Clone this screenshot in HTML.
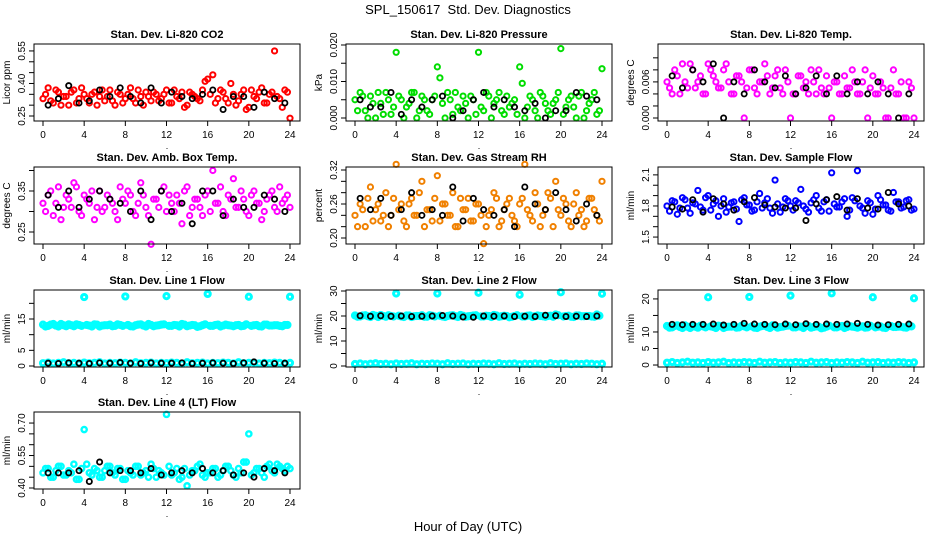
<!DOCTYPE html>
<html><head><meta charset="utf-8"><style>
html,body{margin:0;padding:0;background:#fff;}
svg{display:block;font-family:"Liberation Sans",sans-serif;}
</style></head><body>
<svg id="chart" width="936" height="540" viewBox="0 0 936 540">
<rect x="0" y="0" width="936" height="540" fill="#fff"/>
<text x="468" y="14" font-size="13" text-anchor="middle">SPL_150617&#160; Std. Dev. Diagnostics</text>
<text x="468" y="531" font-size="13" text-anchor="middle">Hour of Day (UTC)</text>
</svg>
<script>
// ---------- data ----------
const hoursColor = [0,0.5,1,1.5,2,2.5,3,3.5,4,4.5,5,5.5,6,6.5,7,7.5,8,8.5,9,9.5,10,10.5,11,11.5,12,12.5,13,13.5,14,14.5,15,15.5,16,16.5,17,17.5,18,18.5,19,19.5,20,20.5,21,21.5,22,22.5,23,23.5,24];
const hoursColorB = [0.25,0.75,1.25,1.75,2.25,2.75,3.25,3.75,4.25,4.75,5.25,5.75,6.25,6.75,7.25,7.75,8.25,8.75,9.25,9.75,10.25,10.75,11.25,11.75,12.25,12.75,13.25,13.75,14.25,14.75,15.25,15.75,16.25,16.75,17.25,17.75,18.25,18.75,19.25,19.75,20.25,20.75,21.25,21.75,22.25,22.75,23.25,23.75];
const hoursBlack = [0.5,1.5,2.5,3.5,4.5,5.5,6.5,7.5,8.5,9.5,10.5,11.5,12.5,13.5,14.5,15.5,16.5,17.5,18.5,19.5,20.5,21.5,22.5,23.5];
const xTicks = [0,4,8,12,16,20,24];

const co2Color = [0.33,0.38,0.31,0.36,0.34,0.30,0.37,0.33,0.35,0.31,0.36,0.34,0.32,0.37,0.30,0.35,0.33,0.38,0.31,0.34,0.36,0.32,0.35,0.33,0.37,0.31,0.34,0.36,0.30,0.35,0.33,0.37,0.42,0.44,0.33,0.36,0.31,0.35,0.32,0.37,0.29,0.34,0.36,0.31,0.35,0.55,0.33,0.37,0.24];
const co2ColorB = [0.35,0.32,0.37,0.30,0.34,0.36,0.31,0.38,0.33,0.35,0.30,0.37,0.34,0.32,0.36,0.31,0.35,0.33,0.37,0.30,0.34,0.36,0.32,0.35,0.31,0.37,0.33,0.29,0.36,0.34,0.32,0.41,0.35,0.31,0.37,0.33,0.40,0.30,0.35,0.28,0.37,0.33,0.38,0.31,0.36,0.34,0.29,0.36];
const co2Black = [0.30,0.33,0.39,0.31,0.32,0.37,0.34,0.38,0.34,0.31,0.38,0.31,0.36,0.34,0.33,0.35,0.37,0.28,0.34,0.34,0.29,0.36,0.33,0.31];

const presColor = [0.005,0.007,0.002,0.006,0.000,0.004,0.007,0.001,0.018,0.005,0.003,0.007,0.000,0.006,0.002,0.005,0.014,0.004,0.007,0.001,0.003,0.006,0.000,0.005,0.018,0.002,0.006,0.004,0.007,0.001,0.003,0.005,0.014,0.000,0.006,0.002,0.007,0.004,0.001,0.005,0.019,0.003,0.006,0.000,0.007,0.002,0.005,0.001,0.0135];
const presColorB = [0.002,0.006,0.000,0.004,0.007,0.001,0.005,0.003,0.006,0.000,0.004,0.007,0.002,0.005,0.001,0.006,0.011,0.000,0.005,0.007,0.002,0.004,0.006,0.001,0.003,0.007,0.000,0.005,0.002,0.006,0.004,0.001,0.0095,0.003,0.005,0.000,0.006,0.002,0.004,0.007,0.001,0.005,0.003,0.006,0.000,0.004,0.007,0.002];
const presBlack = [0.005,0.003,0.003,0.007,0.001,0.005,0.003,0.005,0.006,0.000,0.002,0.005,0.007,0.003,0.005,0.003,0.002,0.004,0.000,0.002,0.002,0.007,0.006,0.005];

const tempColor = [0.006,0.004,0.007,0.009,0.005,0.008,0.006,0.004,0.009,0.007,0.005,0.008,0.006,0.004,0.007,0.000,0.008,0.005,0.006,0.009,0.004,0.007,0.005,0.008,0.000,0.004,0.007,0.006,0.008,0.004,0.005,0.007,0.000,0.006,0.004,0.005,0.008,0.004,0.006,0.000,0.007,0.004,0.005,0.000,0.008,0.004,0.000,0.006,0.000];
const tempColorB = [0.005,0.008,0.004,0.006,0.009,0.005,0.007,0.004,0.008,0.006,0.005,0.009,0.004,0.007,0.006,0.005,0.008,0.004,0.006,0.007,0.005,0.008,0.004,0.006,0.004,0.007,0.005,0.004,0.006,0.008,0.004,0.005,0.006,0.004,0.007,0.005,0.006,0.004,0.008,0.005,0.004,0.006,0.000,0.005,0.004,0.006,0.000,0.005];
const tempBlack = [0.007,0.005,0.008,0.006,0.009,0.000,0.006,0.004,0.008,0.006,0.005,0.007,0.004,0.005,0.007,0.004,0.007,0.004,0.006,0.004,0.006,0.004,0.000,0.004];

const ambColor = [0.32,0.34,0.29,0.36,0.31,0.33,0.37,0.30,0.34,0.32,0.28,0.35,0.31,0.33,0.30,0.36,0.32,0.34,0.29,0.37,0.31,0.22,0.33,0.35,0.30,0.32,0.34,0.27,0.36,0.31,0.33,0.29,0.35,0.40,0.32,0.30,0.34,0.38,0.31,0.33,0.29,0.35,0.32,0.30,0.34,0.31,0.36,0.33,0.31];
const ambColorB = [0.30,0.35,0.32,0.28,0.34,0.31,0.36,0.29,0.33,0.35,0.31,0.30,0.34,0.32,0.28,0.33,0.35,0.30,0.32,0.34,0.29,0.33,0.31,0.36,0.34,0.30,0.32,0.35,0.29,0.33,0.31,0.34,0.30,0.32,0.36,0.29,0.33,0.31,0.35,0.30,0.34,0.32,0.28,0.33,0.35,0.30,0.32,0.34];
const ambBlack = [0.34,0.31,0.35,0.31,0.33,0.35,0.33,0.32,0.30,0.35,0.28,0.35,0.30,0.32,0.27,0.35,0.35,0.29,0.33,0.31,0.31,0.34,0.33,0.30];

const rhColor = [0.24,0.26,0.22,0.29,0.25,0.23,0.28,0.24,0.33,0.26,0.22,0.27,0.24,0.30,0.25,0.23,0.31,0.26,0.24,0.28,0.22,0.25,0.27,0.23,0.26,0.19,0.24,0.28,0.22,0.25,0.27,0.23,0.26,0.33,0.24,0.28,0.22,0.25,0.27,0.30,0.24,0.26,0.22,0.28,0.25,0.23,0.27,0.24,0.30];
const rhColorB = [0.22,0.25,0.27,0.23,0.26,0.24,0.22,0.27,0.25,0.23,0.26,0.24,0.28,0.22,0.25,0.27,0.23,0.26,0.24,0.22,0.27,0.25,0.23,0.26,0.24,0.22,0.25,0.27,0.23,0.26,0.24,0.22,0.27,0.25,0.23,0.26,0.24,0.28,0.22,0.25,0.27,0.23,0.26,0.24,0.22,0.27,0.25,0.23];
const rhBlack = [0.27,0.25,0.27,0.24,0.25,0.28,0.24,0.25,0.24,0.29,0.23,0.27,0.25,0.24,0.25,0.22,0.29,0.26,0.25,0.28,0.25,0.23,0.26,0.24];

const sfColor = [1.80,1.85,1.72,1.88,1.78,1.83,1.95,1.76,1.90,1.82,1.70,1.87,1.79,1.84,1.65,1.88,1.81,1.76,1.92,1.83,1.78,2.05,1.74,1.87,1.80,1.85,1.96,1.77,1.83,1.90,1.75,1.86,2.12,1.79,1.84,1.70,1.88,2.14,1.78,1.85,1.72,1.90,1.81,1.76,1.93,1.84,1.79,1.86,1.77];
const sfColorB = [1.75,1.84,1.78,1.86,1.73,1.82,1.79,1.88,1.76,1.85,1.80,1.74,1.83,1.77,1.86,1.81,1.75,1.84,1.78,1.87,1.73,1.82,1.79,1.85,1.76,1.83,1.80,1.74,1.86,1.78,1.84,1.75,1.82,1.79,1.87,1.76,1.85,1.80,1.73,1.83,1.77,1.86,1.81,1.75,1.84,1.78,1.85,1.76];
const sfBlack = [1.79,1.77,1.86,1.74,1.87,1.82,1.76,1.84,1.88,1.81,1.79,1.78,1.78,1.66,1.82,1.86,1.89,1.76,1.87,1.78,1.77,1.93,1.82,1.80];

const l1High = [13.2,12.8,13.4,12.6,13.0,13.3,12.7,13.1,22.0,12.9,13.3,12.6,13.0,13.2,12.8,13.1,22.2,12.7,13.0,13.3,12.6,13.1,12.9,13.2,22.3,12.8,13.0,13.4,12.7,13.1,12.5,13.0,23.0,12.8,13.2,12.9,13.0,12.7,13.1,12.8,22.1,13.0,12.7,13.2,12.9,13.0,12.8,13.1,22.1];
const l1HighB = [12.6,13.2,12.9,13.4,12.7,13.0,13.3,12.8,13.1,12.6,13.2,12.9,13.0,12.7,13.3,12.8,13.1,12.6,13.2,12.9,13.4,12.7,13.0,13.3,12.8,13.1,12.6,13.2,12.9,13.0,12.7,13.3,12.8,13.1,12.6,13.2,12.9,13.0,12.7,13.3,12.8,13.1,12.6,13.2,12.9,13.0,12.7,13.1];
const l1Low = [0.9,1.1,0.8,1.0,1.2,0.9,1.0,0.8,1.1,0.9,1.0,1.2,0.8,1.0,0.9,1.1,1.0,0.8,1.2,0.9,1.0,1.1,0.8,1.0,0.9,1.1,1.0,0.8,1.2,0.9,1.0,1.1,0.8,1.0,0.9,1.1,1.0,0.8,1.2,0.9,1.0,1.1,0.8,1.0,0.9,1.1,1.0,0.8,1.0];
const l1Black = [0.9,0.8,1.0,0.9,0.8,1.0,0.9,1.1,0.9,0.8,1.0,0.9,0.9,1.0,0.8,0.9,1.0,0.9,0.8,1.0,1.3,0.9,0.8,0.9];

const l2High = [20.2,19.8,20.3,19.6,20.1,20.4,19.7,20.0,29.0,19.8,20.2,19.6,20.0,20.3,19.7,20.1,29.0,19.8,20.0,20.3,19.6,20.1,19.9,20.2,29.3,19.8,20.0,20.4,19.7,20.1,19.5,20.0,28.5,19.8,20.2,19.9,20.0,19.7,20.1,20.6,29.5,20.0,19.7,20.2,19.9,20.0,19.8,20.6,28.9];
const l2HighB = [19.7,20.2,19.9,20.4,19.6,20.0,20.3,19.8,20.1,19.6,20.2,19.9,20.0,19.7,20.3,19.8,20.1,19.6,20.2,19.9,20.4,19.7,20.0,20.3,19.8,20.1,19.6,20.2,19.9,20.0,19.7,20.3,19.8,20.1,19.6,20.2,19.9,20.0,19.7,20.3,19.8,20.1,19.6,20.2,19.9,20.0,19.7,20.1];
const l2Low = [0.8,1.0,0.7,0.9,1.1,0.8,0.9,0.7,1.0,0.8,0.9,1.1,0.7,0.9,0.8,1.0,0.9,0.7,1.1,0.8,0.9,1.0,0.7,0.9,0.8,1.0,0.9,0.7,1.1,0.8,0.9,1.0,0.7,0.9,0.8,1.0,0.9,0.7,1.1,0.8,0.9,1.0,0.7,0.9,0.8,1.0,0.9,0.7,0.9];
const l2Black = [20.1,19.9,20.1,19.9,20.0,19.8,19.9,20.0,20.2,20.0,19.6,19.5,20.0,19.9,20.0,19.8,19.9,19.8,20.3,20.1,19.8,19.9,19.8,20.0];

const l3High = [11.8,11.4,12.0,11.2,11.6,11.9,11.3,11.7,20.5,11.5,11.9,11.2,11.6,11.8,11.4,11.7,20.6,11.3,11.6,11.9,11.2,11.7,11.5,11.8,21.0,11.4,11.6,12.0,11.3,11.7,11.1,11.6,21.7,11.4,11.8,11.5,11.6,11.3,11.7,11.4,20.5,11.6,11.3,11.8,11.5,11.6,11.4,11.7,20.2];
const l3HighB = [11.3,11.8,11.5,12.0,11.2,11.6,11.9,11.4,11.7,11.2,11.8,11.5,11.6,11.3,11.9,11.4,11.7,11.2,11.8,11.5,12.0,11.3,11.6,11.9,11.4,11.7,11.2,11.8,11.5,11.6,11.3,11.9,11.4,11.7,11.2,11.8,11.5,11.6,11.3,11.9,11.4,11.7,11.2,11.8,11.5,11.6,11.3,11.7];
const l3Low = [0.7,0.9,0.6,0.8,1.0,0.7,0.8,0.6,0.9,0.7,0.8,1.0,0.6,0.8,0.7,0.9,0.8,0.6,1.0,0.7,0.8,0.9,0.6,0.8,0.7,0.9,0.8,0.6,1.0,0.7,0.8,0.9,0.6,0.8,0.7,0.9,0.8,0.6,1.0,0.7,0.8,0.9,0.6,0.8,0.7,0.9,0.8,0.6,0.8];
const l3Black = [12.3,12.2,12.3,12.3,12.4,12.1,12.3,12.6,12.4,12.3,12.2,12.4,12.2,12.5,12.3,12.4,12.3,12.4,12.6,12.3,12.1,12.2,12.3,12.4];

const l4Color = [0.47,0.49,0.45,0.50,0.46,0.48,0.51,0.44,0.67,0.47,0.49,0.45,0.48,0.50,0.46,0.49,0.44,0.47,0.50,0.46,0.48,0.51,0.45,0.47,0.74,0.46,0.49,0.45,0.41,0.48,0.50,0.46,0.47,0.49,0.45,0.48,0.50,0.46,0.49,0.52,0.65,0.47,0.49,0.45,0.51,0.47,0.50,0.48,0.49];
const l4ColorB = [0.49,0.45,0.48,0.50,0.46,0.47,0.44,0.49,0.51,0.46,0.48,0.45,0.50,0.47,0.49,0.44,0.48,0.46,0.50,0.47,0.45,0.49,0.48,0.46,0.50,0.47,0.44,0.49,0.46,0.48,0.51,0.45,0.47,0.49,0.46,0.50,0.48,0.45,0.47,0.52,0.46,0.49,0.47,0.50,0.48,0.51,0.49,0.50];
const l4Black = [0.47,0.47,0.47,0.48,0.43,0.52,0.47,0.48,0.48,0.47,0.49,0.46,0.47,0.48,0.47,0.49,0.47,0.48,0.46,0.47,0.45,0.49,0.48,0.47];

// ---------- panel definitions ----------
const panels = [
 {name:'co2', title:'Stan. Dev. Li-820 CO2', ylab:'Licor ppm', col:0,row:0, dom:[0.227,0.582], ticks:[0.25,0.30,0.35,0.40,0.45,0.50,0.55], tl:['0.25','','','0.40','','','0.55'], color:'#ff0000', sw:2, series:[co2Color], seriesB:[co2ColorB], black:co2Black},
 {name:'pressure', title:'Stan. Dev. Li-820 Pressure', ylab:'kPa', col:1,row:0, dom:[-0.00082,0.02027], ticks:[0,0.005,0.010,0.015,0.020], tl:['0.000','','0.010','','0.020'], color:'#00dd00', sw:2, series:[presColor], seriesB:[presColorB], black:presBlack},
 {name:'li820-temp', title:'Stan. Dev. Li-820 Temp.', ylab:'degrees C', col:2,row:0, dom:[-0.0005,0.0123], ticks:[0,0.002,0.004,0.006,0.008,0.010], tl:['0.000','','','0.006','',''], color:'#ff00ff', sw:2, series:[tempColor], seriesB:[tempColorB], black:tempBlack},
 {name:'amb-box-temp', title:'Stan. Dev. Amb. Box Temp.', ylab:'degrees C', col:0,row:1, dom:[0.2207,0.4085], ticks:[0.25,0.30,0.35,0.40], tl:['0.25','','0.35',''], color:'#ff00ff', sw:2, series:[ambColor], seriesB:[ambColorB], black:ambBlack},
 {name:'gas-rh', title:'Stan. Dev. Gas Stream RH', ylab:'percent', col:1,row:1, dom:[0.1894,0.3253], ticks:[0.20,0.22,0.24,0.26,0.28,0.30,0.32], tl:['0.20','','','0.26','','','0.32'], color:'#f08000', sw:2, series:[rhColor], seriesB:[rhColorB], black:rhBlack},
 {name:'sample-flow', title:'Stan. Dev. Sample Flow', ylab:'ml/min', col:2,row:1, dom:[1.433,2.176], ticks:[1.5,1.6,1.7,1.8,1.9,2.0,2.1], tl:['1.5','','','1.8','','','2.1'], color:'#0000ff', sw:2, series:[sfColor], seriesB:[sfColorB], black:sfBlack},
 {name:'line1-flow', title:'Stan. Dev. Line 1 Flow', ylab:'ml/min', col:0,row:2, dom:[-0.32,24.26], ticks:[0,5,10,15,20], tl:['0','5','','15',''], color:'#00ffff', sw:3, series:[l1High,l1Low], seriesB:[l1HighB], black:l1Black},
 {name:'line2-flow', title:'Stan. Dev. Line 2 Flow', ylab:'ml/min', col:1,row:2, dom:[-0.4,30.4], ticks:[0,5,10,15,20,25,30], tl:['0','','10','','20','','30'], color:'#00ffff', sw:3, series:[l2High,l2Low], seriesB:[l2HighB], black:l2Black},
 {name:'line3-flow', title:'Stan. Dev. Line 3 Flow', ylab:'ml/min', col:2,row:2, dom:[-0.6,22.7], ticks:[0,5,10,15,20], tl:['0','5','10','','20'], color:'#00ffff', sw:3, series:[l3High,l3Low], seriesB:[l3HighB], black:l3Black},
 {name:'line4-flow', title:'Stan. Dev. Line 4 (LT) Flow', ylab:'ml/min', col:0,row:3, dom:[0.3954,0.751], ticks:[0.40,0.45,0.50,0.55,0.60,0.65,0.70], tl:['0.40','','','0.55','','','0.70'], color:'#00ffff', sw:2.4, series:[l4Color], seriesB:[l4ColorB], black:l4Black}
];

const NS='http://www.w3.org/2000/svg';
const svg=document.getElementById('chart');
const colLeft=[34,346,658], rowTop=[44,167,290,412], W=266, H=77;

function mk(tag,attrs,parent){const e=document.createElementNS(NS,tag);for(const k in attrs)e.setAttribute(k,attrs[k]);(parent||svg).appendChild(e);return e;}

panels.forEach(p=>{
  const L=colLeft[p.col], T=rowTop[p.row], B=T+H, R=L+W;
  const g=mk('g',{});
  
  
  const xs=h=>L+9+h*(247/24);
  const ys=v=>B-(v-p.dom[0])/(p.dom[1]-p.dom[0])*H;
  const t=mk('text',{x:(L+R)/2,y:T-6,'font-size':'11','font-weight':'bold','text-anchor':'middle'},g);
  t.textContent=p.title;
  
  
  const yl=mk('text',{x:0,y:0,'font-size':'10','text-anchor':'middle',transform:`translate(${L-24},${(T+B)/2}) rotate(-90)`},g);
  yl.textContent=p.ylab;
  
  
  const pg=mk('g',{fill:'none'},g);
  
  
  p.series.forEach(s=>{
    s.forEach((v,i)=>{
      const c=mk('circle',{cx:xs(hoursColor[i]),cy:ys(v),r:2.6,stroke:p.color,'stroke-width':p.sw},pg);
      
      
    });
  });
  p.seriesB.forEach(s=>{
    s.forEach((v,i)=>{
      const c=mk('circle',{cx:xs(hoursColorB[i]),cy:ys(v),r:2.6,stroke:p.color,'stroke-width':p.sw},pg);
      
      
    });
  });
  p.black.forEach((v,i)=>{
    const c=mk('circle',{cx:xs(hoursBlack[i]),cy:ys(v),r:2.6,stroke:'#000','stroke-width':1.8},pg);
    
    
  });
  const bx=mk('rect',{x:L,y:T,width:W,height:H,fill:'none',stroke:'#000','stroke-width':1},g);
  
  
  xTicks.forEach(h=>{
    mk('line',{x1:xs(h),x2:xs(h),y1:B,y2:B+5,stroke:'#000'},g);
    const tx=mk('text',{x:xs(h),y:B+17,'font-size':'10','text-anchor':'middle'},g);
    tx.textContent=String(h);
    
    
  });
  const dot=mk('text',{x:(L+R)/2,y:B+28,'font-size':'9','text-anchor':'middle'},g);
  dot.textContent='.';
  
  
  p.ticks.forEach((v,i)=>{
    mk('line',{x1:L-5,x2:L,y1:ys(v),y2:ys(v),stroke:'#000'},g);
    if(p.tl[i]){
      const ty=mk('text',{x:0,y:0,'font-size':'10','text-anchor':'middle',transform:`translate(${L-9},${ys(v)}) rotate(-90)`},g);
      ty.textContent=p.tl[i];
      
      
    }
  });
});
</script>
</body></html>
